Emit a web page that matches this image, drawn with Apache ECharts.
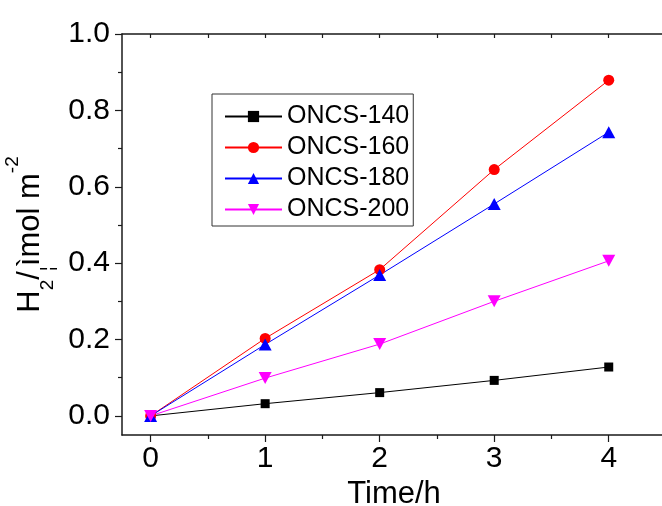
<!DOCTYPE html>
<html><head><meta charset="utf-8">
<script src="https://cdn.jsdelivr.net/npm/echarts@6/dist/echarts.min.js"></script>
<style>html,body{margin:0;padding:0;background:#fff}#c{width:662px;height:506px}</style>
</head><body><div id="c"></div>
<script>
var times = [0, 1, 2, 3, 4];
var oncs140 = [0, 0.032, 0.061, 0.093, 0.128];
var oncs160 = [0, 0.203, 0.383, 0.645, 0.879];
var oncs180 = [0, 0.187, 0.369, 0.555, 0.743];
var oncs200 = [0, 0.099, 0.188, 0.300, 0.406];
var seriesNames = ['ONCS-140', 'ONCS-160', 'ONCS-180', 'ONCS-200'];
var xTickLabels = [0, 1, 2, 3, 4];
var xMinorTicks = [0.5, 1.5, 2.5, 3.5];
var xTopTicks = [0, 0.5, 1, 1.5, 2, 2.5, 3, 3.5, 4];
var yTickLabels = [0, 0.2, 0.4, 0.6, 0.8, 1.0];
var yMinorTicks = [0.1, 0.3, 0.5, 0.7, 0.9];

var AX = "'Liberation Sans',Arial,sans-serif";
var LG = "'Liberation Sans',Arial,sans-serif";
var lineC = '#1a1a1a';

function pairs(ys){ return times.map(function(t,i){ return [t, ys[i]]; }); }

var chart = echarts.init(document.getElementById('c'), null, {renderer:'canvas'});
var xCommon = {type:'value', min:-0.25, max:4.5, gridIndex:0, splitLine:{show:false}};
var yCommon = {type:'value', min:-0.05, max:1.0, gridIndex:0, splitLine:{show:false}};
chart.setOption({
  animation:false,
  backgroundColor:'#fff',
  grid:{left:122, top:34, width:544, height:401, containLabel:false, outerBoundsMode:'none'},
  xAxis:[
    Object.assign({}, xCommon, {
      position:'bottom',
      axisLine:{show:true, onZero:false, lineStyle:{color:lineC, width:1.5}},
      axisTick:{show:true, inside:false, length:7, lineStyle:{color:lineC, width:1.2}, customValues:xTickLabels},
      axisLabel:{show:true, margin:9, fontSize:30, fontFamily:AX, color:'#000', customValues:xTickLabels,
        formatter:function(v){return String(v);}},
      name:'Time/h', nameLocation:'middle', nameGap:36,
      nameTextStyle:{fontSize:31, fontFamily:AX, color:'#000'}
    }),
    Object.assign({}, xCommon, {
      position:'bottom',
      axisLine:{show:false, onZero:false},
      axisTick:{show:true, inside:false, length:4, lineStyle:{color:lineC, width:1.2}, customValues:xMinorTicks},
      axisLabel:{show:false}
    }),
    Object.assign({}, xCommon, {
      position:'top',
      axisLine:{show:true, onZero:false, lineStyle:{color:lineC, width:1.5}},
      axisTick:{show:true, inside:true, length:4, lineStyle:{color:lineC, width:1.2}, customValues:xTopTicks},
      axisLabel:{show:false}
    })
  ],
  yAxis:[
    Object.assign({}, yCommon, {
      position:'left',
      axisLine:{show:true, onZero:false, lineStyle:{color:lineC, width:1.5}},
      axisTick:{show:true, inside:false, length:7, lineStyle:{color:lineC, width:1.2}, customValues:yTickLabels},
      axisLabel:{show:true, margin:12, fontSize:30, fontFamily:AX, color:'#000', customValues:yTickLabels,
        formatter:function(v){return v.toFixed(1);}},
      name:'{m|H}{sub|2}{m|/}{sub|¦}{m|ìmol m}{sup|-2}', nameLocation:'middle', nameGap:49,
      nameTextStyle:{fontFamily:AX, color:'#000', fontSize:31,
        rich:{
          m:{fontSize:31, fontFamily:AX, lineHeight:54, color:'#000'},
          sub:{fontSize:19, fontFamily:AX, lineHeight:19, verticalAlign:'bottom', color:'#000'},
          sup:{fontSize:19, fontFamily:AX, lineHeight:19, verticalAlign:'top', color:'#000'}
        }}
    }),
    Object.assign({}, yCommon, {
      position:'left',
      axisLine:{show:false, onZero:false},
      axisTick:{show:true, inside:false, length:4, lineStyle:{color:lineC, width:1.2}, customValues:yMinorTicks},
      axisLabel:{show:false}
    })
  ],
  legend:{
    show:true, orient:'vertical', left:212, top:94,
    padding:[10, 4, 4, 12], itemGap:6, itemWidth:57, itemHeight:14,
    borderColor:'#333', borderWidth:1, backgroundColor:'#fff',
    textStyle:{fontSize:25, fontFamily:LG, color:'#000', lineHeight:24},
    data:seriesNames
  },
  series:[
    {name:seriesNames[0], type:'line', data:pairs(oncs140), symbol:'rect', symbolSize:9,
      itemStyle:{color:'#000'}, lineStyle:{color:'#000', width:1}},
    {name:seriesNames[1], type:'line', data:pairs(oncs160), symbol:'circle', symbolSize:11,
      itemStyle:{color:'#ff0000'}, lineStyle:{color:'#ff0000', width:1}},
    {name:seriesNames[2], type:'line', data:pairs(oncs180), symbol:'triangle', symbolSize:[13,12],
      itemStyle:{color:'#0000ff'}, lineStyle:{color:'#0000ff', width:1}},
    {name:seriesNames[3], type:'line', data:pairs(oncs200), symbol:'path://M0,0 L10,0 L5,9 Z', symbolSize:[13,12],
      itemStyle:{color:'#ff00ff'}, lineStyle:{color:'#ff00ff', width:1}}
  ]
});
</script></body></html>
